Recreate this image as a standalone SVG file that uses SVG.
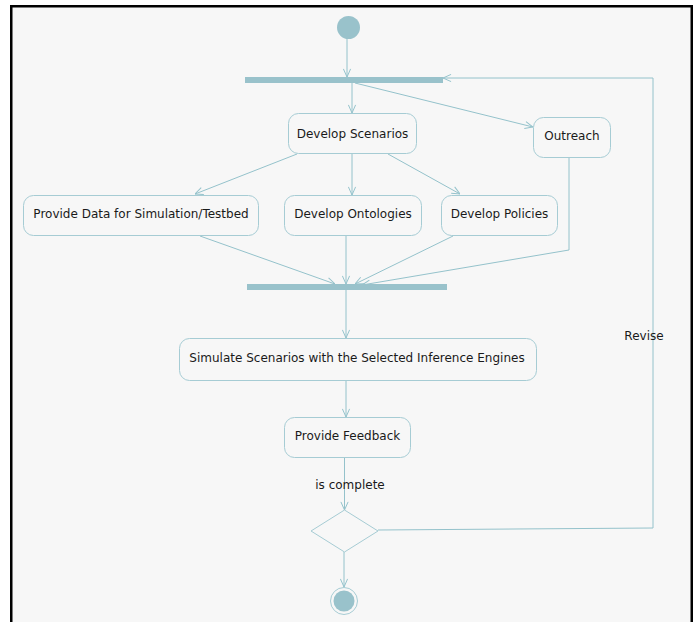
<svg xmlns="http://www.w3.org/2000/svg" width="694" height="622" viewBox="0 0 694 622">
<style>
.bg{fill:#ffffff}
.frame{fill:#f7f7f7;stroke:#000;stroke-width:2.5}
.act{fill:#f7f7f7;stroke:#a6ccd4;stroke-width:1}
.bar{fill:#99c2cb}
.ln{fill:none;stroke:#94c2cb;stroke-width:1}
.t{font-family:"DejaVu Sans",Verdana,sans-serif;font-size:12px;fill:#1a1a1a;text-anchor:middle}
</style>
<defs>
<marker id="ah" viewBox="0 0 10 10" refX="10" refY="5" markerWidth="9" markerHeight="9" markerUnits="userSpaceOnUse" orient="auto">
<path d="M1,1 L10,5 L1,9" fill="none" stroke="#94c2cb" stroke-width="1.1"/>
</marker>
</defs>
<rect class="bg" x="0" y="0" width="694" height="622"/>
<rect class="frame" x="11.25" y="6.25" width="680.5" height="630"/>
<g id="connectors">
<line class="ln" x1="347" y1="39" x2="347" y2="77" marker-end="url(#ah)"/>
<line class="ln" x1="352" y1="83" x2="352" y2="113" marker-end="url(#ah)"/>
<line class="ln" x1="355" y1="83" x2="533" y2="127" marker-end="url(#ah)"/>
<line class="ln" x1="297" y1="154" x2="195" y2="194" marker-end="url(#ah)"/>
<line class="ln" x1="352" y1="154" x2="352" y2="195" marker-end="url(#ah)"/>
<line class="ln" x1="388" y1="154" x2="460" y2="194" marker-end="url(#ah)"/>
<line class="ln" x1="200" y1="236" x2="335" y2="284" marker-end="url(#ah)"/>
<line class="ln" x1="346" y1="236" x2="346" y2="284" marker-end="url(#ah)"/>
<line class="ln" x1="453" y1="236" x2="355" y2="284" marker-end="url(#ah)"/>
<polyline class="ln" points="569,158 569,250 362,285" marker-end="url(#ah)"/>
<line class="ln" x1="346" y1="290" x2="346" y2="338" marker-end="url(#ah)"/>
<line class="ln" x1="346" y1="381" x2="346" y2="417" marker-end="url(#ah)"/>
<line class="ln" x1="344.5" y1="457" x2="344.5" y2="510" marker-end="url(#ah)"/>
<line class="ln" x1="344" y1="552" x2="344" y2="587" marker-end="url(#ah)"/>
<polyline class="ln" points="378,530 653,528 653,78 443,78" marker-end="url(#ah)"/>
<text class="t" x="350" y="489">is complete</text>
<text class="t" x="644" y="340">Revise</text>
</g>
<g id="start"><ellipse cx="348.5" cy="27.5" rx="11.5" ry="11.5" fill="#99c2cb"/></g>
<g id="fork1"><rect class="bar" x="245" y="77" width="198" height="6"/></g>
<g id="scenarios"><rect class="act" x="288.5" y="113.5" width="128" height="40" rx="10"/><text class="t" x="352.5" y="138">Develop Scenarios</text></g>
<g id="outreach"><rect class="act" x="533.5" y="117.5" width="77" height="40" rx="10"/><text class="t" x="572" y="140">Outreach</text></g>
<g id="providedata"><rect class="act" x="23.5" y="195.5" width="235" height="40" rx="10"/><text class="t" x="141" y="218">Provide Data for Simulation/Testbed</text></g>
<g id="ontologies"><rect class="act" x="284.5" y="195.5" width="137" height="40" rx="10"/><text class="t" x="353" y="218">Develop Ontologies</text></g>
<g id="policies"><rect class="act" x="441.5" y="195.5" width="116" height="40" rx="10"/><text class="t" x="499.5" y="218">Develop Policies</text></g>
<g id="join"><rect class="bar" x="247" y="284" width="200" height="6"/></g>
<g id="simulate"><rect class="act" x="179.5" y="338.5" width="357" height="42" rx="10"/><text class="t" x="357" y="362">Simulate Scenarios with the Selected Inference Engines</text></g>
<g id="feedback"><rect class="act" x="284.5" y="417.5" width="126" height="40" rx="10"/><text class="t" x="347.5" y="440">Provide Feedback</text></g>
<g id="decision"><polygon points="344.5,510 378,531 344.5,552 311,531" fill="#f7f7f7" stroke="#a6ccd4" stroke-width="1"/></g>
<g id="final"><circle cx="344" cy="601" r="13.5" fill="none" stroke="#a6ccd4" stroke-width="1"/><circle cx="344" cy="601" r="10.5" fill="#99c2cb"/></g>
</svg>
